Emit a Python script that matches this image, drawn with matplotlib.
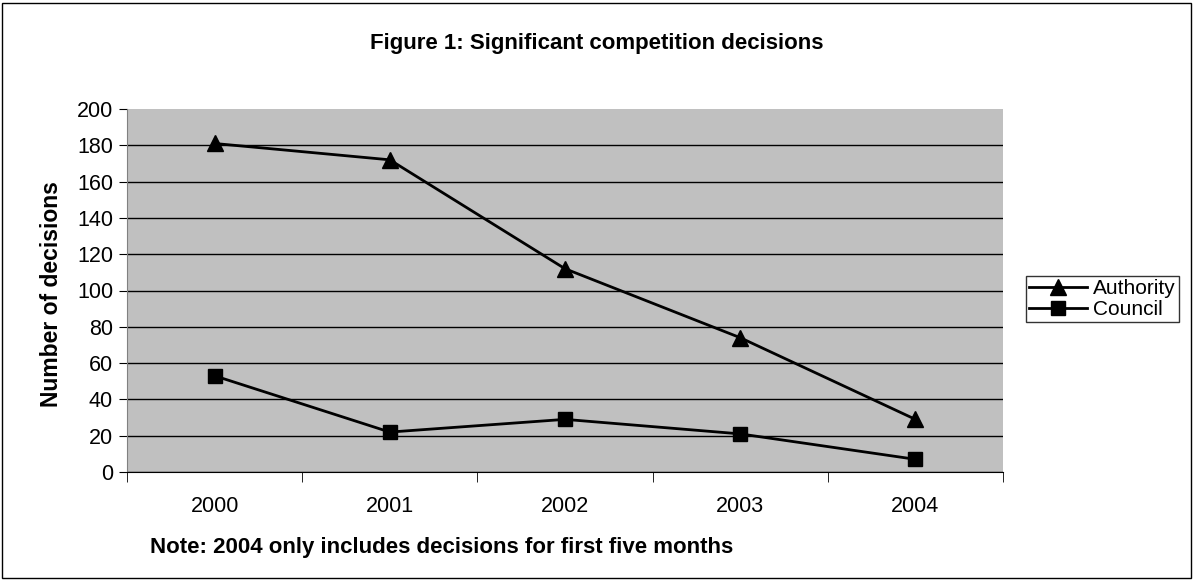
import matplotlib
matplotlib.use("Agg")
import matplotlib.pyplot as plt
from matplotlib.patches import Rectangle

plt.rcParams['font.family'] = ['Liberation Sans', 'DejaVu Sans']

years = ["2000", "2001", "2002", "2003", "2004"]
authority = [181, 172, 112, 74, 29]
council = [53, 22, 29, 21, 7]
y_ticks = list(range(0, 201, 20))

W, H = 1194, 580
fig = plt.figure(figsize=(W / 100, H / 100), dpi=100)

# outer frame
fig.patches.append(Rectangle((2 / W, 2 / H), (W - 5) / W, (H - 5) / H,
                             transform=fig.transFigure, fill=False,
                             edgecolor="black", linewidth=1))

ax = fig.add_axes([127 / W, (H - 472) / H, (1003 - 127) / W, (472 - 109) / H])
ax.set_facecolor("#C0C0C0")

x = list(range(len(years)))
ax.plot(x, authority, color="black", linewidth=2, marker="^", markersize=11,
        label="Authority", zorder=3)
ax.plot(x, council, color="black", linewidth=2, marker="s", markersize=10,
        label="Council", zorder=3)

ax.set_xlim(-0.5, len(years) - 0.5)
ax.set_ylim(0, 200)
ax.set_yticks(y_ticks)
ax.tick_params(axis="y", labelsize=15.5, length=6, color="black", pad=4)
ax.set_xticks(x)
ax.set_xticklabels(years)
ax.set_xticks([i - 0.5 for i in range(len(years) + 1)], minor=True)
ax.tick_params(axis="x", which="major", length=0, labelsize=15.5, pad=17)
ax.tick_params(axis="x", which="minor", length=7, color="black")
ax.grid(axis="y", color="black", linewidth=1)
ax.get_ygridlines()[-1].set_visible(False)
ax.set_axisbelow(True)
for side in ("top", "right"):
    ax.spines[side].set_visible(False)
ax.spines["left"].set_color("#808080")
ax.spines["bottom"].set_color("black")

ax.set_ylabel("Number of decisions", fontsize=16.5, fontweight="bold")
ax.yaxis.set_label_coords((63 - 127) / (1003 - 127), 0.49)

fig.text(0.5, (H - 43) / H, "Figure 1: Significant competition decisions",
         ha="center", va="center", fontsize=16, fontweight="bold")
fig.text(150 / W, (H - 548) / H,
         "Note: 2004 only includes decisions for first five months",
         ha="left", va="center", fontsize=16, fontweight="bold")

leg = fig.legend(loc="center left", bbox_to_anchor=(1026 / W, (H - 299) / H),
                 frameon=True, fancybox=False, edgecolor="black",
                 fontsize=15, handlelength=2.8, borderpad=0.15,
                 labelspacing=0.1, handletextpad=0.25, borderaxespad=0)
leg.get_frame().set_linewidth(1)

fig.savefig("out.png", dpi=100)
